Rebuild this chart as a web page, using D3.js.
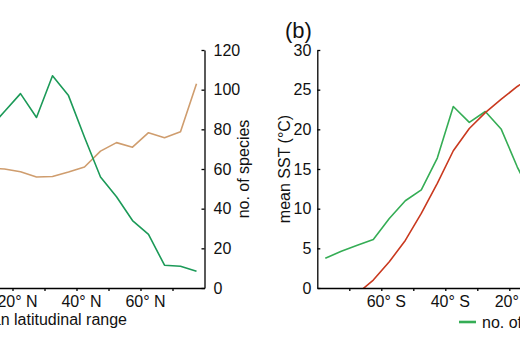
<!DOCTYPE html>
<html>
<head>
<meta charset="utf-8">
<script src="https://cdn.jsdelivr.net/npm/d3@7"></script>
<style>
  body { margin: 0; background: #fff; }
  svg { display: block; font-family: "Liberation Sans", Arial, sans-serif; }
  .axis path, .axis line { stroke: #000; stroke-width: 1.3; }
  .axis text { font-size: 16px; fill: #111; }
</style>
</head>
<body>
<svg width="520" height="350"></svg>
<script>
const width = 520, height = 350;
const plotTop = 50, plotBottom = 288;

// panel (a): northern hemisphere, midpoints of 5 degree bins
const latNorth = [12.5, 17.5, 22.5, 27.5, 32.5, 37.5, 42.5, 47.5, 52.5, 57.5, 62.5, 67.5, 72.5, 77.5];
const speciesNorth = [80, 89, 98, 86, 107, 97, 76, 56, 46, 34, 27, 11.5, 11, 8.5];
const rangeNorth = [60.5, 60, 58.6, 56, 56.2, 58.5, 61, 69, 73.3, 71, 78.3, 75.8, 78.8, 103];
const northTicks = [10, 20, 30, 40, 50, 60, 70];
const northLabels = [20, 40, 60];

// panel (b): southern hemisphere
const latSouth = [-77.5, -72.5, -67.5, -62.5, -57.5, -52.5, -47.5, -42.5, -37.5, -32.5, -27.5, -22.5, -17.5, -12.5];
const speciesSouth = [15, 18.5, 21.5, 24.5, 35, 44, 49.5, 65.5, 91.5, 83.5, 89, 80, 61, 45];
const sstSouth = [null, null, -0.7, 1.0, 3.3, 6.0, 9.4, 13.2, 17.3, 20.1, 22.1, 23.8, 25.4, 26.8];
const southTicks = [-70, -60, -50, -40, -30, -20, -10];
const southLabels = [-60, -40, -20];

const speciesTicks = [0, 20, 40, 60, 80, 100, 120];
const sstTicks = [0, 5, 10, 15, 20, 25, 30];

const green = "#1c9a58", greenB = "#35ad55", tan = "#cf9d6e", red = "#c9391f";

const svg = d3.select("svg");

const xNorth = d3.scaleLinear().domain([0, 80]).range([-51.5, 204.5]);
const xSouth = d3.scaleLinear().domain([-80, 0]).range([317.3, 573.3]);
const ySpecies = d3.scaleLinear().domain([0, 120]).range([plotBottom, plotTop]);
const ySST = d3.scaleLinear().domain([0, 30]).range([plotBottom, plotTop]);

const defs = svg.append("defs");
defs.append("clipPath").attr("id", "clipA")
  .append("rect").attr("x", -80).attr("y", 0)
  .attr("width", xNorth(80) + 80).attr("height", plotBottom);
defs.append("clipPath").attr("id", "clipB")
  .append("rect").attr("x", xSouth(-80)).attr("y", 0)
  .attr("width", 300).attr("height", plotBottom);

// ---- panel (a)
const panelA = svg.append("g");

const lineA = (vals) => d3.line()
  .defined((d, i) => vals[i] != null)
  .x((d, i) => xNorth(latNorth[i]))
  .y((d, i) => ySpecies(vals[i]));

const gA = panelA.append("g").attr("clip-path", "url(#clipA)");
gA.append("path")
  .datum(rangeNorth)
  .attr("fill", "none").attr("stroke", tan).attr("stroke-width", 1.6)
  .attr("stroke-linejoin", "round")
  .attr("d", lineA(rangeNorth));
gA.append("path")
  .datum(speciesNorth)
  .attr("fill", "none").attr("stroke", green).attr("stroke-width", 1.6)
  .attr("stroke-linejoin", "round")
  .attr("d", lineA(speciesNorth));

const xAxisA = panelA.append("g")
  .attr("class", "axis")
  .attr("transform", `translate(0,${plotBottom})`)
  .call(d3.axisBottom(xNorth)
    .tickValues(northTicks)
    .tickSizeInner(3).tickSizeOuter(0).tickPadding(5)
    .tickFormat(d => northLabels.includes(d) ? `${d}° N` : ""));
xAxisA.selectAll("text").attr("dx", 4.5);

panelA.append("g")
  .attr("class", "axis")
  .attr("transform", `translate(${xNorth(80)},0)`)
  .call(d3.axisRight(ySpecies)
    .tickValues(speciesTicks)
    .tickSizeInner(-3).tickSizeOuter(0).tickPadding(9));

panelA.append("text")
  .attr("transform", `translate(249,${(plotTop + plotBottom) / 2}) rotate(-90)`)
  .attr("text-anchor", "middle")
  .style("font-size", "16px").style("fill", "#111")
  .text("no. of species");

panelA.append("text")
  .attr("x", 127).attr("y", 325)
  .attr("text-anchor", "end")
  .style("font-size", "16px").style("fill", "#111")
  .text("mean latitudinal range");

// ---- panel (b)
const panelB = svg.append("g");

const lineB = (vals, y) => d3.line()
  .defined((d, i) => vals[i] != null)
  .x((d, i) => xSouth(latSouth[i]))
  .y((d, i) => y(vals[i]));

const gB = panelB.append("g").attr("clip-path", "url(#clipB)");
gB.append("path")
  .datum(speciesSouth)
  .attr("fill", "none").attr("stroke", greenB).attr("stroke-width", 1.6)
  .attr("stroke-linejoin", "round")
  .attr("d", lineB(speciesSouth, ySpecies));
gB.append("path")
  .datum(sstSouth)
  .attr("fill", "none").attr("stroke", red).attr("stroke-width", 1.6)
  .attr("stroke-linejoin", "round")
  .attr("d", lineB(sstSouth, ySST));

const xAxisB = panelB.append("g")
  .attr("class", "axis")
  .attr("transform", `translate(0,${plotBottom})`)
  .call(d3.axisBottom(xSouth)
    .tickValues(southTicks)
    .tickSizeInner(3).tickSizeOuter(0).tickPadding(5)
    .tickFormat(d => southLabels.includes(d) ? `${-d}° S` : ""));
xAxisB.selectAll("text").attr("dx", 4.5);

panelB.append("g")
  .attr("class", "axis")
  .attr("transform", `translate(${xSouth(-80)},0)`)
  .call(d3.axisLeft(ySST)
    .tickValues(sstTicks)
    .tickSizeInner(-3).tickSizeOuter(0).tickPadding(6));

panelB.append("text")
  .attr("transform", `translate(290,${(plotTop + plotBottom) / 2}) rotate(-90)`)
  .attr("text-anchor", "middle")
  .style("font-size", "16px").style("fill", "#111")
  .text("mean SST (°C)");

panelB.append("text")
  .attr("x", 285).attr("y", 38)
  .style("font-size", "22px").style("fill", "#111")
  .text("(b)");

// legend
const legend = svg.append("g").attr("transform", "translate(459,322)");
legend.append("line")
  .attr("x1", 0).attr("x2", 17)
  .attr("stroke", greenB).attr("stroke-width", 2.6);
legend.append("text")
  .attr("x", 23).attr("y", 5.5)
  .style("font-size", "16px").style("fill", "#111")
  .text("no. of species");
</script>
</body>
</html>
